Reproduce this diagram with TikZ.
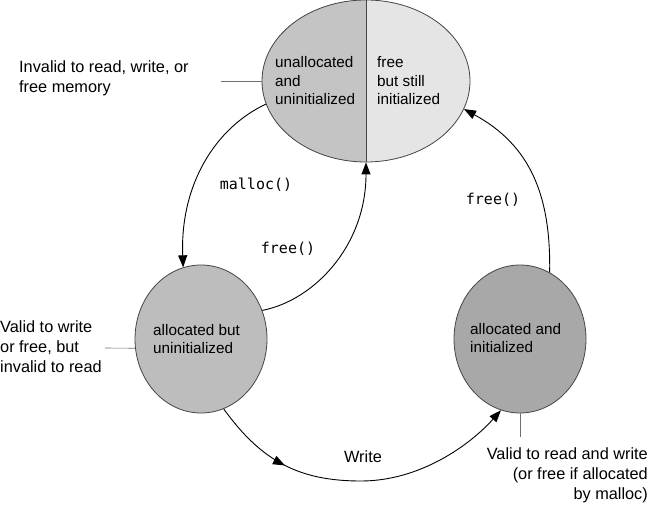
\documentclass[tikz,border=0pt]{standalone}
\usepackage{fontspec}
\setmainfont{Liberation Sans}
\setmonofont{DejaVu Sans Mono}
\usetikzlibrary{shapes.geometric,arrows.meta,decorations.markings}
\definecolor{gTopL}{HTML}{C4C4C4}
\definecolor{gTopR}{HTML}{E5E5E5}
\definecolor{gLeft}{HTML}{BDBDBD}
\definecolor{gRight}{HTML}{A8A8A8}
\definecolor{gLine}{HTML}{444444}
\definecolor{gNote}{HTML}{707070}
\begin{document}
\begin{tikzpicture}[x=1pt,y=-1pt,
  statebox/.style={ellipse, draw=gLine, line width=0.8pt, inner sep=0pt},
  intext/.style={align=left, inner sep=0pt, font=\fontsize{15.3}{18.5}\selectfont},
  annot/.style={inner sep=0pt, font=\fontsize{16.3}{20}\selectfont},
  codelbl/.style={inner sep=0pt, font=\fontsize{15}{18}\ttfamily},
  noteline/.style={draw=gNote, line width=0.6pt},
  arr/.style={draw=black, line width=0.9pt, -{Triangle[length=12pt,width=9pt]}}
]
\useasboundingbox (0,0) rectangle (650,505);

% states
\node[statebox, fill=gTopR, minimum width=208pt, minimum height=162pt,
  path picture={\fill[gTopL] (path picture bounding box.north west) rectangle (path picture bounding box.south);}]
  (top) at (366,81) {};
\draw[gLine, line width=0.8pt] (top.north) -- (top.south);
\node[statebox, fill=gLeft, minimum width=132pt, minimum height=148pt] (left) at (201,339) {};
\node[statebox, fill=gRight, minimum width=132pt, minimum height=148pt] (right) at (520,339) {};

% texts in states
\node[intext, anchor=west] (tl) at (275,81) {unallocated\\and\\uninitialized};
\node[intext, anchor=west] (tr) at (377,81) {free\\but still\\initialized};
\node[intext, anchor=west] (lt) at (153,339) {allocated but\\uninitialized};
\node[intext, anchor=west] (rt) at (470,338) {allocated and\\initialized};

% annotations
\node[annot, align=left, anchor=west] (a1) at (19,78) {Invalid to read, write, or\\free memory};
\coordinate (a1e) at (221,81);
\draw[noteline] (a1e) -- (top.west);
\node[annot, align=left, anchor=west] (a2) at (0,347) {Valid to write\\or free, but\\invalid to read};
\coordinate (a2e) at (105,348);
\draw[noteline] (a2e) -- (left.188);
\node[annot, align=right, anchor=east] (a3) at (648,475) {Valid to read and write\\(or free if allocated\\by malloc)};
\coordinate (a3e) at (520,437);
\draw[noteline] (right.south) -- (a3e);

% transitions
\draw[arr] (top.193) .. controls (215,128) and (180,185) .. (left.104);
\draw[arr] (left.25) .. controls (315,300) and (366,245) .. (top.south);
\draw[arr] (right.66.6) .. controls (551,195) and (530,145) .. (top.344);
\coordinate (wmid) at (361,481);
\draw[arr, postaction={decorate},
  decoration={markings, mark=at position 0.26 with {\arrow{Triangle[length=12pt,width=9pt]}}}]
  (left.288) .. controls (262,462) and (300,481) .. (wmid)
  .. controls (420,481) and (470,445) .. (right.255);

% labels
\node[codelbl] (lm) at (256,185) {malloc()};
\node[codelbl] (lf1) at (288,249) {free()};
\node[codelbl] (lf2) at (493,200) {free()};
\node[annot] (lw) at (363,457) {Write};
\end{tikzpicture}
\end{document}
